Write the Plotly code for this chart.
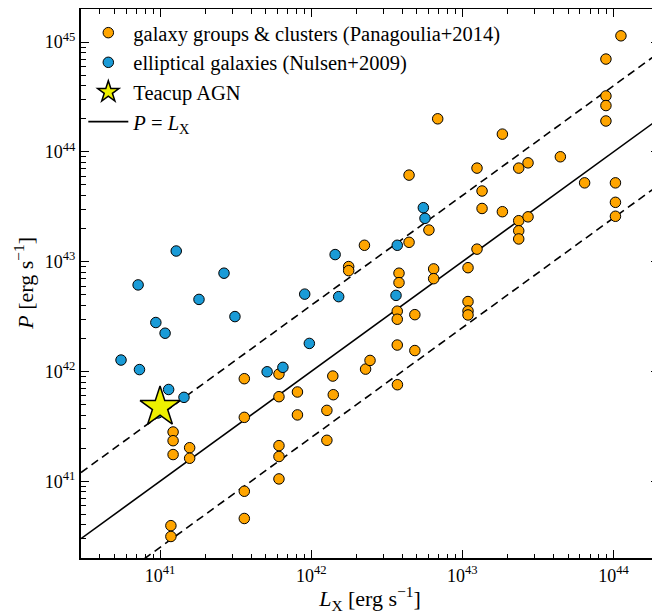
import plotly.graph_objects as go

# ---- data ----
clusters_lx = [3.61e41, 6.12e41, 6.12e41, 8.11e41, 3.61e41, 8.11e41, 1.27e42, 1.22e41, 1.22e41, 1.57e41,
               1.22e41, 1.57e41, 6.12e41, 6.12e41, 1.27e42, 6.12e41, 3.61e41, 3.61e41, 1.18e41, 1.18e41,
               1.39e42, 1.40e42, 3.71e42, 3.71e42, 4.85e42, 3.71e42, 4.85e42, 2.29e42, 2.45e42, 3.72e42,
               1.09e43, 1.09e43, 1.09e43, 2.25e42, 4.44e42, 6.01e42, 1.25e43, 1.77e42, 1.77e42, 3.81e42,
               3.81e42, 6.46e42, 6.46e42, 1.09e43, 1.12e44, 8.91e43, 8.91e43, 8.91e43, 8.91e43, 6.87e42,
               1.84e43, 4.45e43, 1.25e43, 2.36e43, 2.72e43, 4.44e42, 6.44e43, 1.03e44, 1.35e43, 1.03e44,
               1.35e43, 1.84e43, 2.36e43, 2.72e43, 2.36e43, 2.36e43, 1.03e44]
clusters_p = [8.59e41, 9.46e41, 5.89e41, 6.50e41, 3.82e41, 4.02e41, 4.42e41, 2.81e41, 2.34e41, 2.02e41,
              1.75e41, 1.62e41, 2.11e41, 1.68e41, 2.36e41, 1.05e41, 8.11e40, 4.58e40, 3.94e40, 3.14e40,
              9.08e41, 6.14e41, 3.54e42, 2.99e42, 3.29e42, 1.74e42, 1.55e42, 1.05e42, 1.26e42, 7.57e41,
              4.33e42, 3.56e42, 3.27e42, 1.41e43, 1.50e43, 1.94e43, 1.30e43, 9.02e42, 8.28e42, 7.85e42,
              6.44e42, 8.59e42, 7.00e42, 8.81e42, 1.14e45, 7.00e44, 3.23e44, 2.64e44, 1.91e44, 2.00e44,
              1.45e44, 9.02e43, 7.11e43, 7.11e43, 7.94e43, 6.14e43, 5.22e43, 5.22e43, 4.40e43, 3.47e43,
              3.05e43, 2.85e43, 2.36e43, 2.56e43, 1.91e43, 1.61e43, 2.59e43]

ellipticals_lx = [7.16e40, 1.28e41, 1.81e41, 2.65e41, 9.06e41, 3.13e41, 9.38e40, 1.08e41, 9.72e41, 5.52e40,
                  7.31e40, 5.11e41, 6.50e41, 1.14e41, 1.44e41, 9.70e40, 1.44e42, 1.52e42, 3.64e42, 3.71e42,
                  5.52e42, 5.66e42]
ellipticals_p = [6.14e42, 1.25e43, 4.53e42, 7.85e42, 5.06e42, 3.16e42, 2.79e42, 2.23e42, 1.80e42, 1.27e42,
                 1.04e42, 9.93e41, 1.09e42, 6.85e41, 5.81e41, 4.19e41, 1.16e43, 4.80e42, 4.93e42, 1.41e43,
                 3.10e43, 2.48e43]

teacup_lx = [1.0e41]
teacup_p = [4.74e41]

line_lx = [3e40, 2e44]
ratio_solid = 1.0
ratio_upper = 4.0
ratio_lower = 0.25

xtick_vals = [1e41, 1e42, 1e43, 1e44]
xtick_text = ["10<sup>41</sup>", "10<sup>42</sup>", "10<sup>43</sup>", "10<sup>44</sup>"]
ytick_vals = [1e41, 1e42, 1e43, 1e44, 1e45]
ytick_text = ["10<sup>41</sup>", "10<sup>42</sup>", "10<sup>43</sup>", "10<sup>44</sup>", "10<sup>45</sup>"]

x_minor = [m * 10.0 ** e for e in range(40, 45) for m in range(2, 10)]
y_minor = [m * 10.0 ** e for e in range(40, 46) for m in range(2, 10)]

FONT = "Liberation Serif, 'Times New Roman', 'DejaVu Serif', serif"
ORANGE = "#FFA500"
BLUE = "#1A9BD7"
YELLOW = "#EEF000"

fig = go.Figure()

fig.add_trace(go.Scatter(x=line_lx, y=[v * ratio_solid for v in line_lx], mode="lines",
                         line=dict(color="black", width=1.6), name="<i>P</i> = <i>L</i><sub>X</sub>",
                         legendrank=4))
fig.add_trace(go.Scatter(x=line_lx, y=[v * ratio_upper for v in line_lx], mode="lines",
                         line=dict(color="black", width=1.6, dash="8px,5px"), showlegend=False))
fig.add_trace(go.Scatter(x=line_lx, y=[v * ratio_lower for v in line_lx], mode="lines",
                         line=dict(color="black", width=1.6, dash="8px,5px"), showlegend=False))

fig.add_trace(go.Scatter(x=clusters_lx, y=clusters_p, mode="markers",
                         marker=dict(color=ORANGE, size=10.5, line=dict(color="black", width=1)),
                         name="galaxy groups &amp; clusters (Panagoulia+2014)", legendrank=1))
fig.add_trace(go.Scatter(x=ellipticals_lx, y=ellipticals_p, mode="markers",
                         marker=dict(color=BLUE, size=10.5, line=dict(color="black", width=1)),
                         name="elliptical galaxies (Nulsen+2009)", legendrank=2))
fig.add_trace(go.Scatter(x=teacup_lx, y=teacup_p, mode="markers",
                         marker=dict(color=YELLOW, size=30, symbol="star", line=dict(color="black", width=1.5)),
                         name="Teacup AGN", legendrank=3))

axis_common = dict(type="log", showline=True, linecolor="black", linewidth=2, mirror="allticks",
                   ticks="inside", ticklen=8, tickwidth=1.3, tickcolor="black", showgrid=False,
                   zeroline=False, automargin=False, tickfont=dict(family=FONT, size=18, color="black"))

fig.update_xaxes(range=[40.4771, 44.301], tickvals=xtick_vals, ticktext=xtick_text,
                 minor=dict(tickvals=x_minor, ticks="inside", ticklen=4.5, tickwidth=1, tickcolor="black"),
                 title=dict(text="<i>L</i><sub>X</sub> [erg s<sup>−1</sup>]",
                            font=dict(family=FONT, size=22, color="black"), standoff=1),
                 **axis_common)
fig.update_yaxes(range=[40.301, 45.301], tickvals=ytick_vals, ticktext=ytick_text,
                 minor=dict(tickvals=y_minor, ticks="inside", ticklen=4.5, tickwidth=1, tickcolor="black"),
                 **axis_common)

# y-axis title as a rotated annotation, placed left of the tick labels
fig.add_annotation(text="<i>P</i> [erg s<sup>−1</sup>]", textangle=-90,
                   xref="paper", yref="paper", x=-0.1, y=0.5, xanchor="center", yanchor="middle",
                   showarrow=False, font=dict(family=FONT, size=22, color="black"))

# page body adds an 8px offset, so the figure is sized to the visible area
fig.update_layout(
    width=652, height=606,
    margin=dict(l=73, r=1, t=1, b=56, autoexpand=False),
    paper_bgcolor="white", plot_bgcolor="white",
    font=dict(family=FONT, color="black"),
    legend=dict(x=0.004, y=0.993, xanchor="left", yanchor="top", bgcolor="rgba(0,0,0,0)",
                font=dict(family=FONT, size=20.5, color="black"), itemwidth=40, tracegroupgap=0),
)

fig.write_html("out.html")
